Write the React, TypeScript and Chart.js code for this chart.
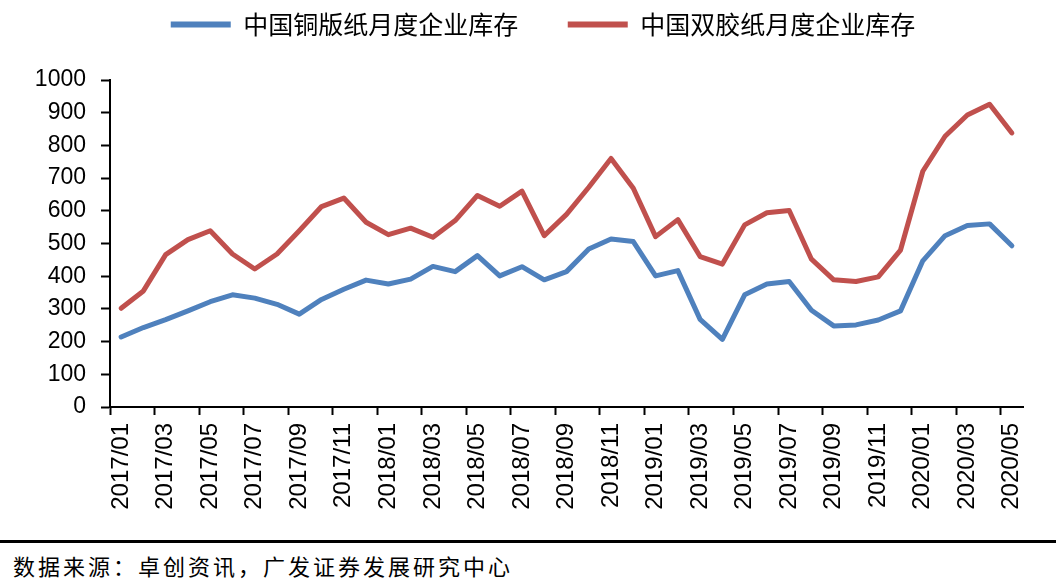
import { useEffect, useRef } from "react";
import { Chart, registerables } from "chart.js";

Chart.register(...registerables);

const months = [
  "2017/01", "2017/02", "2017/03", "2017/04", "2017/05", "2017/06", "2017/07", "2017/08", "2017/09", "2017/10", "2017/11", "2017/12",
  "2018/01", "2018/02", "2018/03", "2018/04", "2018/05", "2018/06", "2018/07", "2018/08", "2018/09", "2018/10", "2018/11", "2018/12",
  "2019/01", "2019/02", "2019/03", "2019/04", "2019/05", "2019/06", "2019/07", "2019/08", "2019/09", "2019/10", "2019/11", "2019/12",
  "2020/01", "2020/02", "2020/03", "2020/04", "2020/05",
];

const coatedPaperStock = [
  214, 243, 267, 294, 322, 343, 333, 314, 284, 329, 360, 388,
  376, 391, 430, 414, 463, 401, 429, 389, 414, 483, 514, 506,
  401, 417, 268, 207, 343, 376, 384, 296, 248, 251, 266, 294,
  447, 524, 555, 560, 493,
];

const offsetPaperStock = [
  302, 355, 466, 512, 539, 468, 422, 468, 539, 613, 639, 565,
  527, 547, 519, 570, 647, 614, 660, 524, 589, 672, 760, 669,
  521, 573, 460, 437, 557, 594, 601, 452, 389, 384, 398, 480,
  721, 828, 893, 926, 838,
];

const seriesNames = ["中国铜版纸月度企业库存", "中国双胶纸月度企业库存"];
const seriesColors = ["#4F81BD", "#C0504D"];
const yMin = 0;
const yMax = 1000;
const yStep = 100;
const sourceNote = "数据来源：卓创资讯，广发证券发展研究中心";

export default function App() {
  const canvasRef = useRef<HTMLCanvasElement | null>(null);

  useEffect(() => {
    const canvas = canvasRef.current;
    if (!canvas) return;
    const chart = new Chart(canvas, {
      type: "line",
      data: {
        labels: months,
        datasets: [
          {
            label: seriesNames[0],
            data: coatedPaperStock,
            borderColor: seriesColors[0],
            backgroundColor: seriesColors[0],
            borderWidth: 5,
            pointRadius: 0,
            tension: 0,
            borderJoinStyle: "round",
            borderCapStyle: "round",
          },
          {
            label: seriesNames[1],
            data: offsetPaperStock,
            borderColor: seriesColors[1],
            backgroundColor: seriesColors[1],
            borderWidth: 5,
            pointRadius: 0,
            tension: 0,
            borderJoinStyle: "round",
            borderCapStyle: "round",
          },
        ],
      },
      options: {
        responsive: false,
        animation: false,
        layout: { padding: { top: 0, left: 30, right: 0, bottom: 0 } },
        plugins: {
          tooltip: { enabled: false },
          legend: {
            position: "top",
            align: "center",
            labels: {
              color: "#000",
              font: { family: '"Noto Sans CJK SC"', size: 25 },
              boxWidth: 60,
              boxHeight: 6,
              padding: 12,
              generateLabels: (ch) =>
                ch.data.datasets.map((ds, i) => ({
                  text: (ds.label as string) + (i === 0 ? "\u3000\u2002" : ""),
                  fillStyle: seriesColors[i],
                  strokeStyle: seriesColors[i],
                  lineWidth: 0,
                  hidden: false,
                  datasetIndex: i,
                  fontColor: "#000",
                })),
            },
          },
          title: {
            display: true,
            text: "",
            position: "right",
            fullSize: false,
            font: { size: 10 },
            padding: { top: 21, bottom: 0 },
          },
          subtitle: {
            display: true,
            text: "",
            position: "top",
            weight: 500,
            font: { size: 10 },
            padding: { top: 0, bottom: 21 },
          } as any,
        },
        scales: {
          x: {
            type: "category",
            offset: true,
            grid: {
              offset: true,
              drawOnChartArea: false,
              tickLength: 8,
              tickWidth: 2,
              tickColor: (ctx: any) => (ctx.index % 2 === 0 ? "#000" : "rgba(0,0,0,0)"),
            },
            border: { color: "#000", width: 2 },
            ticks: {
              autoSkip: false,
              maxRotation: 90,
              minRotation: 90,
              padding: 8,
              color: "#000",
              font: { family: '"Liberation Sans", Arial', size: 24 },
              callback: function (this: any, value: any, index: number) {
                return index % 2 === 0 ? this.getLabelForValue(value) : "";
              },
            },
            afterFit: (scale: any) => {
              scale.height = 133;
            },
          },
          y: {
            min: yMin,
            max: yMax,
            grid: {
              drawOnChartArea: false,
              tickLength: 9,
              tickWidth: 2,
              tickColor: "#000",
            },
            border: { color: "#000", width: 2 },
            ticks: {
              stepSize: yStep,
              padding: 15,
              color: "#000",
              font: { family: '"Liberation Sans", Arial', size: 23 },
              callback: (value: any) => String(value),
            },
            afterFit: (scale: any) => {
              scale.width = 80;
            },
          },
        },
      },
    });
    return () => chart.destroy();
  }, []);

  return (
    <div
      style={{
        position: "fixed",
        left: 0,
        top: 0,
        width: 1056,
        height: 583,
        background: "#fff",
        overflow: "hidden",
      }}
    >
      <canvas
        ref={canvasRef}
        width={1056}
        height={540}
        style={{ position: "absolute", left: 0, top: 0, width: 1056, height: 540 }}
      />
      <div
        style={{
          position: "absolute",
          left: 0,
          top: 540,
          width: 1056,
          height: 3,
          background: "#000",
        }}
      />
      <div
        style={{
          position: "absolute",
          left: 13,
          top: 550,
          fontFamily: '"Noto Sans CJK SC"',
          fontSize: 22,
          letterSpacing: 3,
          lineHeight: "30px",
          color: "#000",
          whiteSpace: "nowrap",
        }}
      >
        {sourceNote}
      </div>
    </div>
  );
}
